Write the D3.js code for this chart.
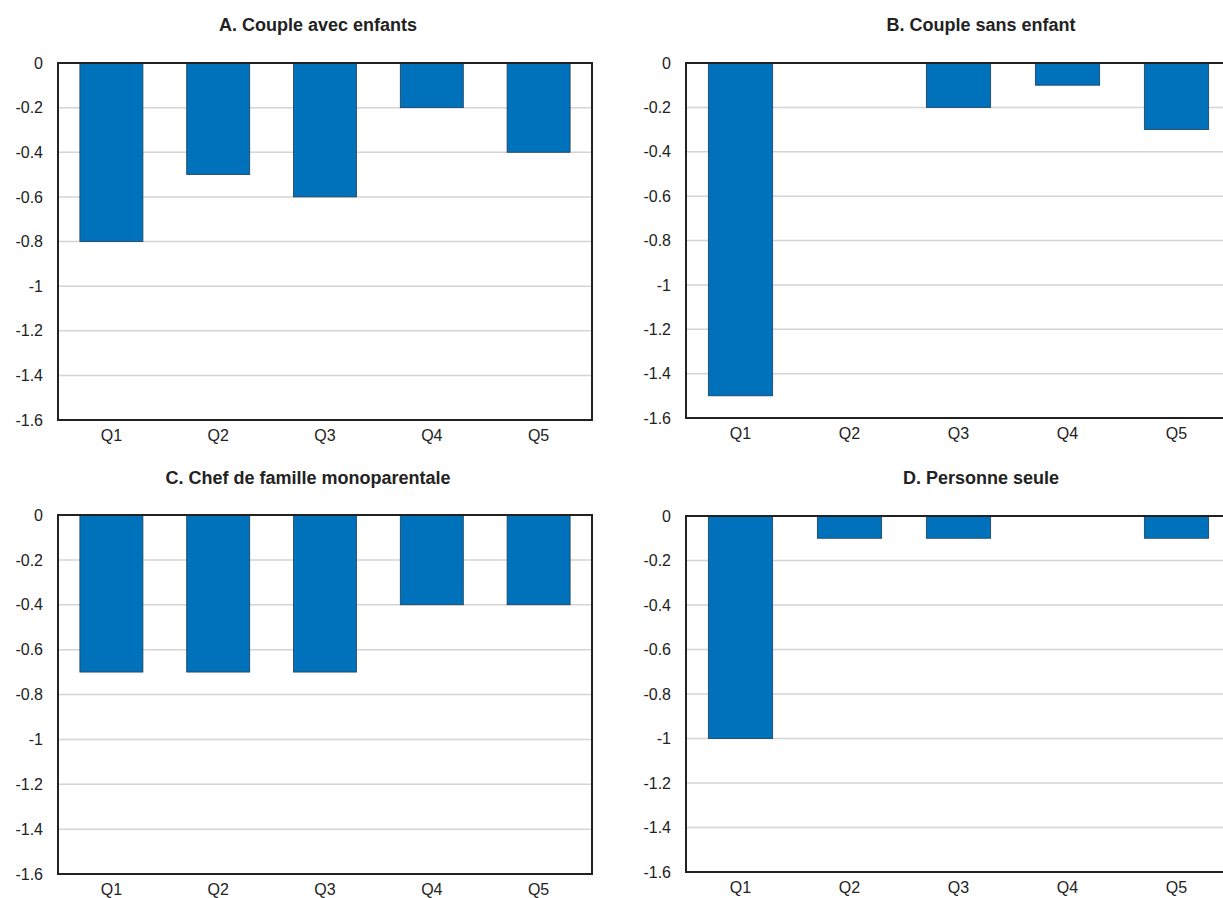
<!DOCTYPE html>
<html>
<head>
<meta charset="utf-8">
<script src="https://cdn.jsdelivr.net/npm/d3@7.9.0/dist/d3.min.js"></script>
<style>
  body { margin: 0; background: #fff; }
  svg { display: block; font-family: "Liberation Sans", Arial, sans-serif; }
  .title { font-weight: bold; font-size: 18px; fill: #222; }
</style>
</head>
<body>
<svg id="chart" width="1223" height="898"></svg>
<script>
const quintiles = ['Q1', 'Q2', 'Q3', 'Q4', 'Q5'];
const yTicks = [0, -0.2, -0.4, -0.6, -0.8, -1, -1.2, -1.4, -1.6];

const titles = [
  'A. Couple avec enfants',
  'B. Couple sans enfant',
  'C. Chef de famille monoparentale',
  'D. Personne seule'
];
const coupleAvecEnfants = [-0.8, -0.5, -0.6, -0.2, -0.4];
const coupleSansEnfant = [-1.5, 0, -0.2, -0.1, -0.3];
const monoparentale = [-0.7, -0.7, -0.7, -0.4, -0.4];
const personneSeule = [-1.0, -0.1, -0.1, 0, -0.1];

const seriesList = [coupleAvecEnfants, coupleSansEnfant, monoparentale, personneSeule];

// panel frames (plot area) and title centres
const panels = [
  { x0: 58, x1: 592, y0: 63, y1: 420, tx: 318, ty: 31 },
  { x0: 686, x1: 1231, y0: 63, y1: 418, tx: 981, ty: 31 },
  { x0: 58, x1: 592, y0: 515, y1: 874, tx: 308, ty: 484 },
  { x0: 686, x1: 1231, y0: 516, y1: 872, tx: 981, ty: 484 }
];

const svg = d3.select('#chart');
const blue = '#0072bb';

panels.forEach((p, i) => {
  const data = seriesList[i];
  const g = svg.append('g');

  const x = d3.scaleBand().domain(quintiles).range([p.x0, p.x1]).paddingInner(0.41).paddingOuter(0.205);
  const y = d3.scaleLinear().domain([-1.6, 0]).range([p.y1, p.y0]);

  // gridlines
  g.selectAll('line.grid')
    .data(yTicks.filter(t => t !== 0 && t !== -1.6))
    .join('line')
    .attr('class', 'grid')
    .attr('x1', p.x0).attr('x2', p.x1)
    .attr('y1', d => y(d)).attr('y2', d => y(d))
    .attr('stroke', '#d4d4d4')
    .attr('stroke-width', 1.5);

  // bars
  g.selectAll('rect.bar')
    .data(data)
    .join('rect')
    .attr('class', 'bar')
    .attr('x', (d, j) => x(quintiles[j]))
    .attr('width', x.bandwidth())
    .attr('y', y(0))
    .attr('height', d => y(d) - y(0))
    .attr('fill', blue)
    .attr('stroke', d => d === 0 ? 'none' : '#1d3d55')
    .attr('stroke-width', 0.8);

  // frame
  g.append('rect')
    .attr('x', p.x0).attr('y', p.y0)
    .attr('width', p.x1 - p.x0).attr('height', p.y1 - p.y0)
    .attr('fill', 'none')
    .attr('stroke', '#222')
    .attr('stroke-width', 2);

  // y axis labels (plain hyphen minus, like the original)
  const yAxis = d3.axisLeft(y).tickValues(yTicks).tickSize(0).tickPadding(15)
    .tickFormat(d => String(+d.toFixed(1)));
  g.append('g').attr('transform', `translate(${p.x0},0)`).call(yAxis)
    .call(a => a.select('.domain').remove())
    .attr('font-size', 16).attr('font-family', null);

  // x axis labels
  const xAxis = d3.axisBottom(x).tickSize(0).tickPadding(10);
  g.append('g').attr('transform', `translate(0,${p.y1})`).call(xAxis)
    .call(a => a.select('.domain').remove())
    .attr('font-size', 16).attr('font-family', null);

  g.append('text')
    .attr('class', 'title')
    .attr('x', p.tx).attr('y', p.ty)
    .attr('text-anchor', 'middle')
    .text(titles[i]);
});

svg.selectAll('.tick text').attr('fill', '#222');
</script>
</body>
</html>
